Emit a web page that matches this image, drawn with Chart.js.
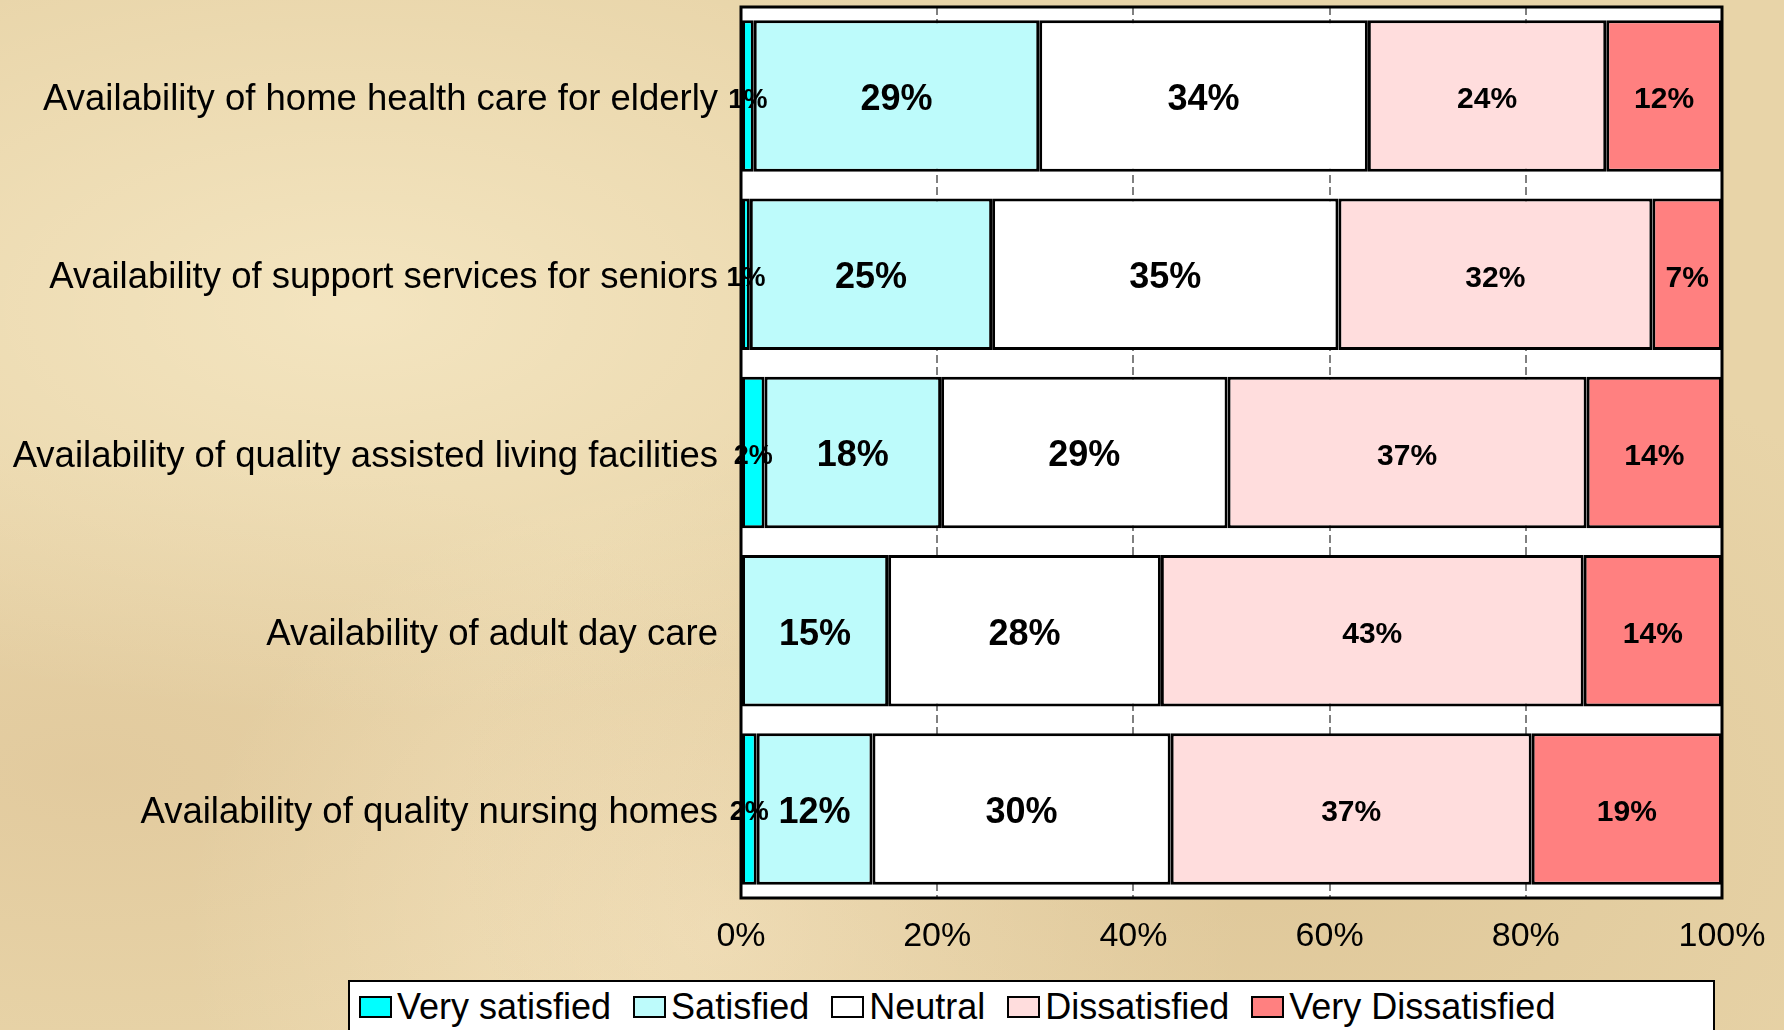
<!DOCTYPE html>
<html>
<head>
<meta charset="utf-8">
<script src="https://cdn.jsdelivr.net/npm/chart.js@4.4.0/dist/chart.umd.min.js"></script>
<style>
  html, body { margin: 0; padding: 0; }
  body {
    width: 1784px; height: 1030px; overflow: hidden; position: relative;
    background: #e8d4a8;
    background-image:
      radial-gradient(ellipse at 20% 30%, rgba(255,245,215,0.5), rgba(255,245,215,0) 40%),
      radial-gradient(ellipse at 70% 80%, rgba(205,175,125,0.35), rgba(205,175,125,0) 45%),
      radial-gradient(ellipse at 40% 90%, rgba(255,240,210,0.45), rgba(255,240,210,0) 35%),
      radial-gradient(ellipse at 5% 75%, rgba(215,185,140,0.35), rgba(215,185,140,0) 30%);
    font-family: "Liberation Sans", Arial, sans-serif;
  }
  #wrap { position: absolute; left: 0; top: 0; width: 1784px; height: 1030px; }
  #legend {
    position: absolute; left: 348px; top: 980px; width: 1367px; height: 70px;
    background: #fff; border: 2px solid #000; box-sizing: border-box;
    display: flex; align-items: flex-start; padding: 4px 0 0 9px;
    font-size: 36px; color: #000;
  }
  .item { display: flex; align-items: center; margin-right: 22px; white-space: nowrap; }
  .swatch { width: 29px; height: 18px; border: 2px solid #000; margin-right: 5px; }
</style>
</head>
<body>
<div id="wrap"><canvas id="chart" width="1784" height="1030"></canvas></div>
<div id="legend"></div>
<script>
const categories = [
  "Availability of home health care for elderly",
  "Availability of support services for seniors",
  "Availability of quality assisted living facilities",
  "Availability of adult day care",
  "Availability of quality nursing homes"
];
const seriesNames = ["Very satisfied", "Satisfied", "Neutral", "Dissatisfied", "Very Dissatisfied"];
const verySatisfied = [1.3, 0.9, 2.4, 0, 1.6];
const satisfied = [29.1, 24.7, 18.0, 15.0, 11.8];
const neutral = [33.5, 35.3, 29.2, 27.8, 30.4];
const dissatisfied = [24.3, 32.0, 36.6, 43.1, 36.8];
const veryDissatisfied = [11.8, 7.1, 13.8, 14.1, 19.4];
const xTicks = [0, 20, 40, 60, 80, 100];

const colors = ["#00ffff", "#bdfbfb", "#ffffff", "#ffdddd", "#ff8080"];
const labelSizes = [27, 36, 36, 30, 30];
const FONT = '"Liberation Sans", Arial, sans-serif';

const seriesValues = [verySatisfied, satisfied, neutral, dissatisfied, veryDissatisfied];

// values written inside the bars
const barLabels = {
  id: "barLabels",
  afterDatasetsDraw(chart) {
    const ctx = chart.ctx;
    ctx.save();
    ctx.fillStyle = "#000";
    ctx.textAlign = "center";
    ctx.textBaseline = "middle";
    chart.data.datasets.forEach((ds, i) => {
      ctx.font = "bold " + labelSizes[i] + "px " + FONT;
      chart.getDatasetMeta(i).data.forEach((bar, j) => {
        const v = ds.data[j];
        if (!v) return;
        const cx = (bar.x + bar.base) / 2;
        ctx.fillText(Math.round(v) + "%", cx, bar.y + 4);
      });
    });
    ctx.restore();
  }
};

// white plot area and black frame round it
const plotBg = {
  id: "plotBg",
  beforeDraw(chart) {
    const a = chart.chartArea;
    chart.ctx.save();
    chart.ctx.fillStyle = "#fff";
    chart.ctx.fillRect(a.left, a.top, a.right - a.left, a.bottom - a.top);
    chart.ctx.restore();
  },
  afterDraw(chart) {
    const a = chart.chartArea;
    const ctx = chart.ctx;
    ctx.save();
    ctx.strokeStyle = "#000";
    ctx.lineWidth = 3;
    ctx.strokeRect(a.left, a.top, a.right - a.left, a.bottom - a.top);
    ctx.restore();
  }
};

new Chart(document.getElementById("chart"), {
  type: "bar",
  data: {
    labels: categories,
    datasets: seriesNames.map((name, i) => ({
      label: name,
      data: seriesValues[i],
      backgroundColor: colors[i],
      borderColor: "#000",
      borderWidth: 3,
      borderSkipped: false,
      barPercentage: 0.85,
      categoryPercentage: 1
    }))
  },
  options: {
    indexAxis: "y",
    responsive: false,
    animation: false,
    layout: { padding: { top: 7, right: 62, left: 0, bottom: 72 } },
    plugins: { legend: { display: false }, tooltip: { enabled: false } },
    scales: {
      x: {
        stacked: true,
        min: 0, max: 100,
        afterBuildTicks: s => { s.ticks = xTicks.map(v => ({ value: v })); },
        afterFit: s => { s.height = 60; s.paddingLeft = 0; s.paddingRight = 0; },
        grid: { color: "#808080", lineWidth: 2, drawTicks: false },
        border: { display: false, dash: [8, 4] },
        ticks: {
          padding: 18,
          color: "#000",
          font: { family: FONT, size: 34 },
          callback: v => v + "%"
        }
      },
      y: {
        stacked: true,
        afterFit: s => { s.width = 741; s.paddingTop = 0; s.paddingBottom = 0; },
        grid: { display: false },
        border: { display: false },
        ticks: {
          padding: 15,
          labelOffset: 4,
          color: "#000",
          font: { family: FONT, size: 36.5 }
        }
      }
    }
  },
  plugins: [plotBg, barLabels]
});

const legend = document.getElementById("legend");
seriesNames.forEach((name, i) => {
  const item = document.createElement("div");
  item.className = "item";
  const sw = document.createElement("span");
  sw.className = "swatch";
  sw.style.background = colors[i];
  const tx = document.createElement("span");
  tx.textContent = name;
  item.appendChild(sw);
  item.appendChild(tx);
  legend.appendChild(item);
});
</script>
</body>
</html>
